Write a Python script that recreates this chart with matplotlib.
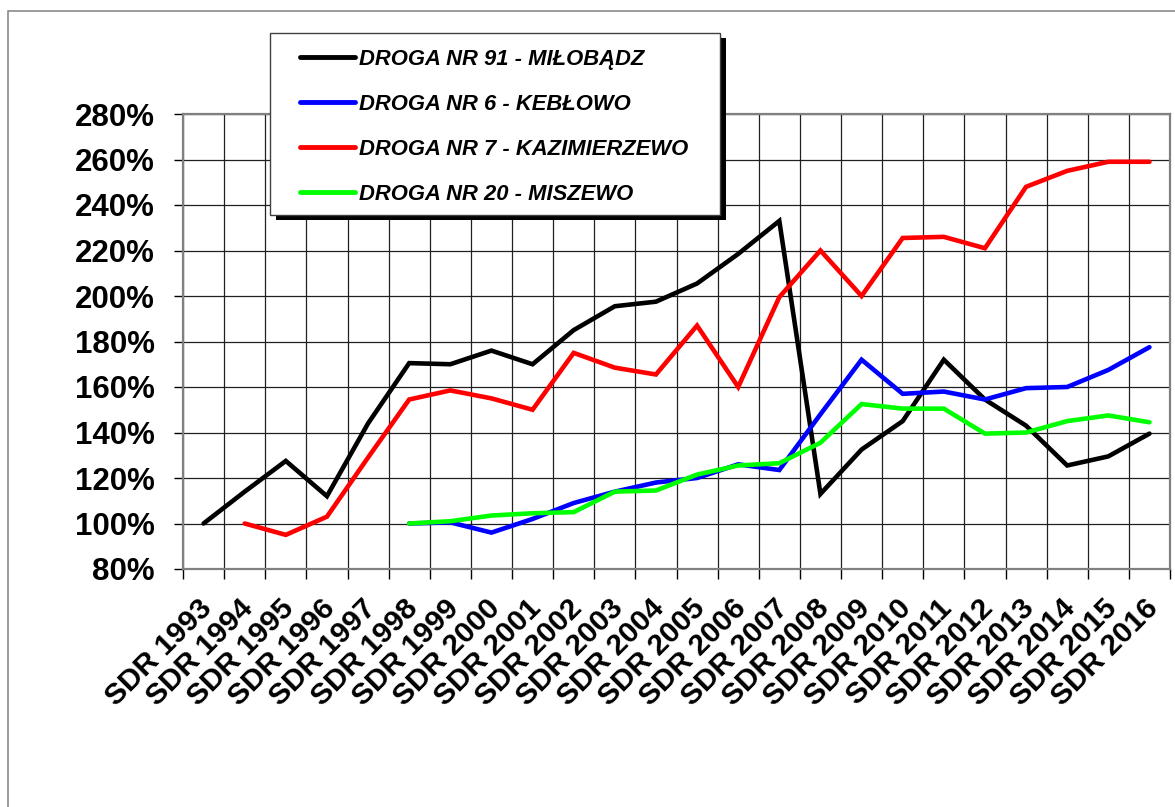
import matplotlib
matplotlib.use('Agg')
import matplotlib.pyplot as plt
import matplotlib.transforms as mtransforms
from matplotlib.patches import Rectangle
import numpy as np

plt.rcParams['font.family'] = ['Liberation Sans', 'DejaVu Sans']

nan = np.nan
years = [1993, 1994, 1995, 1996, 1997, 1998, 1999, 2000, 2001, 2002, 2003, 2004,
         2005, 2006, 2007, 2008, 2009, 2010, 2011, 2012, 2013, 2014, 2015, 2016]
labels = ['SDR %d' % y for y in years]

# wartosci w % (pierwszy pomiar = 100%)
droga91 = [100, 114, 127.5, 112, 144, 170.5, 170, 176, 170, 185, 195.5, 197.5,
           205.5, 218.5, 233, 113, 132.5, 145, 172, 154.5, 143, 125.5, 129.5, 139.5]
droga6 = [nan, nan, nan, nan, nan, 100, 100.5, 96, 102, 109, 114, 118,
          120, 126, 123.5, 148, 172, 157, 158, 154.5, 159.5, 160, 167.5, 177.5]
droga7 = [nan, 100, 95, 103, 129, 154.5, 158.5, 155, 150, 175, 168.5, 165.5,
          187, 160, 199.5, 220, 200, 225.5, 226, 221, 248, 255, 259, 259]
droga20 = [nan, nan, nan, nan, nan, 100, 101, 103.5, 104.5, 105, 114, 114.5,
           121.5, 125.5, 126.5, 135.5, 152.5, 150.5, 150.5, 139.5, 140, 145, 147.5, 144.5]

series = [
    ('DROGA NR 91 - MIŁOBĄDZ', droga91, '#000000'),
    ('DROGA NR 6 - KEBŁOWO', droga6, '#0000FF'),
    ('DROGA NR 7 - KAZIMIERZEWO', droga7, '#FF0000'),
    ('DROGA NR 20 - MISZEWO', droga20, '#00FF00'),
]
yticks = [80, 100, 120, 140, 160, 180, 200, 220, 240, 260, 280]

W, H = 1175, 807
fig = plt.figure(figsize=(W / 100, H / 100), dpi=100)
ax = fig.add_axes([183 / W, 1 - 569 / H, (1170 - 183) / W, (569 - 114) / H])

x = np.arange(len(years)) + 0.5
handles = []
for name, vals, col in series:
    ln, = ax.plot(x, vals, color=col, lw=3.3, label=name,
                  solid_joinstyle='miter', solid_capstyle='round', zorder=3)
    handles.append(ln)

ax.set_xlim(0, len(years))
ax.set_ylim(80, 280)

ax.set_xticks(np.arange(len(years) + 1))
ax.set_xticklabels([])
ax.set_xticks(x, minor=True)
ax.set_xticklabels(labels, minor=True, rotation=45, ha='right', va='center',
                   rotation_mode='anchor', fontsize=21.5, fontweight='bold')
ax.tick_params(axis='x', which='major', length=7, width=1, color='black')
ax.tick_params(axis='x', which='minor', length=0, pad=25)
offset = mtransforms.ScaledTranslation(0.04, 0, fig.dpi_scale_trans)
for lab in ax.get_xticklabels(minor=True):
    lab.set_transform(lab.get_transform() + offset)

ax.set_yticks(yticks)
ax.set_yticklabels(['%d%%' % v for v in yticks], fontsize=22.5, fontweight='bold')
ax.tick_params(axis='y', length=6.5, width=1, color='black', pad=14)

ax.grid(True, which='major', color='#202020', lw=0.9)
ax.set_axisbelow(True)
for sp in ax.spines.values():
    sp.set_color('#808080')
    sp.set_linewidth(1.6)

# ramka calego wykresu
fig.patches.append(Rectangle((8 / W, -0.1), 1.5, 1.1 - 10.5 / H, transform=fig.transFigure,
                             fill=False, edgecolor='#808080', lw=1.1, zorder=0))

# legenda z cieniem
lx0, ly0, lx1, ly1 = 270, 33, 720, 215
fig.patches.append(Rectangle(((lx0 + 6) / W, 1 - (ly1 + 5) / H), (lx1 - lx0) / W, (ly1 - ly0) / H,
                             transform=fig.transFigure, facecolor='black', edgecolor='black',
                             lw=0, zorder=4))
fig.patches.append(Rectangle((lx0 / W, 1 - ly1 / H), (lx1 - lx0) / W, (ly1 - ly0) / H,
                             transform=fig.transFigure, facecolor='white', edgecolor='#404040',
                             lw=1.0, zorder=4.5))
leg = fig.legend(handles=handles, loc='upper left', bbox_to_anchor=(300 / W, 1 - 49 / H),
                 frameon=False, borderpad=0, borderaxespad=0, handlelength=2.5,
                 handletextpad=0.2, labelspacing=1.09,
                 prop={'size': 15.8, 'weight': 'bold', 'style': 'italic'})
leg.set_zorder(6)
for ln in leg.get_lines():
    ln.set_linewidth(3.5)
    ln.set_solid_capstyle('round')

fig.savefig('out.png', dpi=100)
